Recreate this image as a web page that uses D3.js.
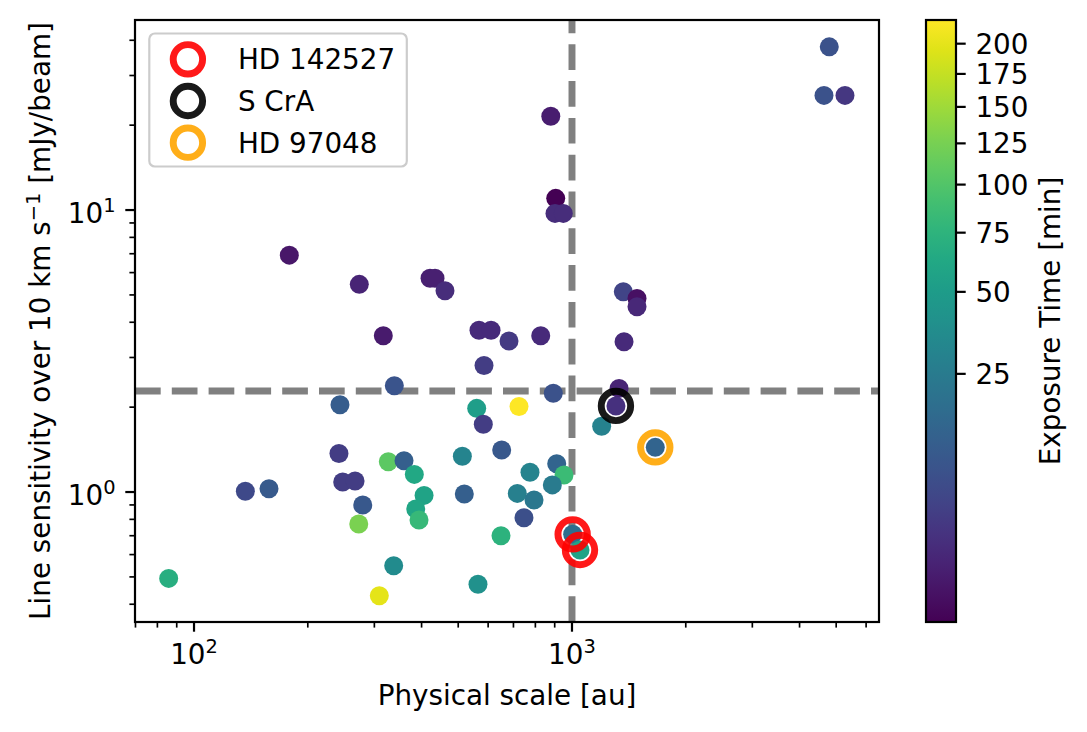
<!DOCTYPE html>
<html>
<head>
<meta charset="utf-8">
<script src="https://cdn.jsdelivr.net/npm/d3@7/dist/d3.min.js"></script>
<style>
  body { margin: 0; background: white; }
  text { font-family: "DejaVu Sans", sans-serif; fill: black; }
</style>
</head>
<body>
<div id="container"></div>
<script>
// physical scale [au], line sensitivity [mJy/beam], exposure time [min]
var scale_au = [878.8, 905.6, 901.6, 948.4, 4794, 4642, 5275, 178.7, 273.7, 316.8,
                243.3, 338.8, 421.1, 434.1, 461.3, 567.5, 610.7, 681.3, 826.6, 585.1,
                892.3, 559.6, 724.1, 1367, 1486, 1486, 1373, 1332, 1307, 1198,
                241.8, 326.6, 247.4, 266.7, 136.7, 157.9, 279.5, 272.8, 85.7, 337.5,
                309.2, 582.6, 359.4, 382.7, 406.1, 386.0, 393.8, 512.8, 651.6, 518.9,
                774.3, 911.1, 952.4, 716.6, 887.1, 793.5, 746.4, 648.9, 1004, 1050,
                564.0, 1661];
var sensitivity = [21.5, 11.0, 9.73, 9.73, 37.9, 25.5, 25.5, 6.92, 5.45, 3.58,
                   2.04, 2.38, 5.73, 5.73, 5.17, 3.75, 3.75, 3.43, 3.58, 2.81,
                   2.24, 1.98, 2.01, 5.13, 4.86, 4.54, 3.41, 2.33, 2.02, 1.71,
                   1.37, 1.28, 1.085, 1.094, 1.006, 1.027, 0.899, 0.770, 0.494, 0.548,
                   0.429, 1.74, 1.29, 1.155, 0.973, 0.870, 0.796, 1.34, 1.41, 0.984,
                   1.175, 1.26, 1.15, 0.989, 1.06, 0.937, 0.811, 0.700, 0.708, 0.623,
                   0.471, 1.44];
var exposure_min = [1.4, 1.0, 2.3, 2.3, 7.9, 7.9, 3.2, 1.2, 1.7, 1.3,
                    11, 8.6, 1.5, 1.5, 2.3, 2.1, 2.1, 3.6, 2.1, 4.0,
                    7.9, 52, 221, 4.9, 1.07, 1.9, 2.1, 1.7, 2.6, 29,
                    4.0, 108, 4.0, 4.0, 6.0, 10, 9.3, 127, 70, 36,
                    200, 4.0, 11.8, 62, 57, 60, 82, 31, 9.3, 11.8,
                    31, 13.7, 85, 28, 25, 23, 7.2, 74, 18, 57,
                    40, 13.7];

// highlighted targets (index into the arrays above)
var target_names = ["HD 142527", "S CrA", "HD 97048"];
var target_colors = ["red", "black", "orange"];
var target_index = [[58, 59], [28], [61]];

var au_limit = 1000,
    sens_limit = 2.28;

var cbar_ticks = [25, 50, 75, 100, 125, 150, 175, 200];
var t_min = 1, t_max = 221;

var width = 1087, height = 732;
var m = {left: 135, right: 879, top: 20, bottom: 622};
var fs = 27.8;

var svg = d3.select("#container").append("svg")
    .attr("width", width)
    .attr("height", height);

var x = d3.scaleLog().domain([69.8, 6490]).range([m.left, m.right]);
var y = d3.scaleLog().domain([0.346, 47.2]).range([m.bottom, m.top]);

// PowerNorm(gamma=0.4)
var norm = d3.scalePow().exponent(0.4).domain([0, t_max - t_min]).range([0, 1]).clamp(true);
function color(v) { return d3.interpolateViridis(norm(v - t_min)); }

var isMajor = function(v) { var l = Math.log10(v); return Math.abs(l - Math.round(l)) < 1e-6; };

var plot = svg.append("g");

// threshold lines
plot.append("line")
    .attr("x1", m.left).attr("x2", m.right)
    .attr("y1", y(sens_limit)).attr("y2", y(sens_limit))
    .attr("stroke", "gray").attr("stroke-width", 6.94)
    .attr("stroke-dasharray", "25.7 11.1");
plot.append("line")
    .attr("x1", x(au_limit)).attr("x2", x(au_limit))
    .attr("y1", m.bottom).attr("y2", m.top)
    .attr("stroke", "gray").attr("stroke-width", 6.94)
    .attr("stroke-dasharray", "25.7 11.1");

// scatter
plot.selectAll(".dot")
    .data(d3.range(scale_au.length))
    .enter().append("circle")
    .attr("class", "dot")
    .attr("cx", function(i) { return x(scale_au[i]); })
    .attr("cy", function(i) { return y(sensitivity[i]); })
    .attr("r", 9.5)
    .attr("fill", function(i) { return color(exposure_min[i]); });

// rings around named targets
target_names.forEach(function(name, k) {
  target_index[k].forEach(function(i) {
    plot.append("circle")
        .attr("cx", x(scale_au[i]))
        .attr("cy", y(sensitivity[i]))
        .attr("r", 14.7)
        .attr("fill", "none")
        .attr("stroke", target_colors[k])
        .attr("stroke-opacity", 0.9)
        .attr("stroke-width", 6.94);
  });
});

// frame
svg.append("rect")
    .attr("x", m.left).attr("y", m.top)
    .attr("width", m.right - m.left).attr("height", m.bottom - m.top)
    .attr("fill", "none").attr("stroke", "black").attr("stroke-width", 2.2);

// x ticks
var xt = svg.append("g");
x.ticks().forEach(function(v) {
  var big = isMajor(v);
  xt.append("line")
    .attr("x1", x(v)).attr("x2", x(v))
    .attr("y1", m.bottom).attr("y2", m.bottom + (big ? 9.7 : 5.6))
    .attr("stroke", "black").attr("stroke-width", big ? 2.2 : 1.67);
  if (big) {
    var t = xt.append("text")
      .attr("x", x(v)).attr("y", m.bottom + 42)
      .attr("text-anchor", "middle")
      .style("font-size", fs + "px");
    t.append("tspan").text("10");
    t.append("tspan").attr("dy", -11).style("font-size", (fs * 0.7) + "px").text(Math.round(Math.log10(v)));
  }
});

// y ticks
var yt = svg.append("g");
y.ticks().forEach(function(v) {
  var big = isMajor(v);
  yt.append("line")
    .attr("x1", m.left).attr("x2", m.left - (big ? 9.7 : 5.6))
    .attr("y1", y(v)).attr("y2", y(v))
    .attr("stroke", "black").attr("stroke-width", big ? 2.2 : 1.67);
  if (big) {
    var t = yt.append("text")
      .attr("x", m.left - 19.4).attr("y", y(v) + 13)
      .attr("text-anchor", "end")
      .style("font-size", fs + "px");
    t.append("tspan").text("10");
    t.append("tspan").attr("dy", -11).style("font-size", (fs * 0.7) + "px").text(Math.round(Math.log10(v)));
  }
});

// axis labels
svg.append("text")
    .attr("x", (m.left + m.right) / 2).attr("y", 705)
    .attr("text-anchor", "middle")
    .style("font-size", fs + "px")
    .text("Physical scale [au]");

var yl = svg.append("text")
    .attr("transform", "translate(50," + ((m.top + m.bottom) / 2) + ") rotate(-90)")
    .attr("text-anchor", "middle")
    .style("font-size", fs + "px");
yl.append("tspan").text("Line sensitivity over 10 km s");
yl.append("tspan").attr("dy", -10).style("font-size", (fs * 0.7) + "px").text("\u22121");
yl.append("tspan").attr("dy", 10).text(" [mJy/beam]");

// legend
var lg = svg.append("g");
lg.append("rect")
    .attr("x", 149.3).attr("y", 33.5)
    .attr("width", 257.5).attr("height", 133)
    .attr("rx", 5.6)
    .attr("fill", "white").attr("fill-opacity", 0.8)
    .attr("stroke", "#cccccc").attr("stroke-width", 2.2);
target_names.forEach(function(name, k) {
  var cy = 59.3 + k * 41.7;
  lg.append("circle")
    .attr("cx", 187.9).attr("cy", cy).attr("r", 14.7)
    .attr("fill", "none")
    .attr("stroke", target_colors[k]).attr("stroke-opacity", 0.9)
    .attr("stroke-width", 6.94);
  lg.append("text")
    .attr("x", 237.9).attr("y", cy + 10)
    .style("font-size", fs + "px")
    .text(name);
});

// colorbar
var cb = {left: 926, right: 956};
var cy_scale = d3.scaleLinear().domain([0, 1]).range([m.bottom, m.top]);

var grad = svg.append("defs").append("linearGradient")
    .attr("id", "viridis")
    .attr("x1", "0%").attr("y1", "100%")
    .attr("x2", "0%").attr("y2", "0%");
d3.range(0, 1.0001, 0.05).forEach(function(s) {
  grad.append("stop").attr("offset", (s * 100) + "%").attr("stop-color", d3.interpolateViridis(s));
});

svg.append("rect")
    .attr("x", cb.left).attr("y", m.top)
    .attr("width", cb.right - cb.left).attr("height", m.bottom - m.top)
    .attr("fill", "url(#viridis)")
    .attr("stroke", "black").attr("stroke-width", 2.2);

cbar_ticks.forEach(function(v) {
  var ty = cy_scale(norm(v - t_min));
  svg.append("line")
    .attr("x1", cb.right).attr("x2", cb.right + 9.7)
    .attr("y1", ty).attr("y2", ty)
    .attr("stroke", "black").attr("stroke-width", 2.2);
  svg.append("text")
    .attr("x", cb.right + 19.4).attr("y", ty + 10)
    .style("font-size", fs + "px")
    .text(v);
});

svg.append("text")
    .attr("transform", "translate(1060," + ((m.top + m.bottom) / 2) + ") rotate(-90)")
    .attr("text-anchor", "middle")
    .style("font-size", fs + "px")
    .text("Exposure Time [min]");
</script>
</body>
</html>
